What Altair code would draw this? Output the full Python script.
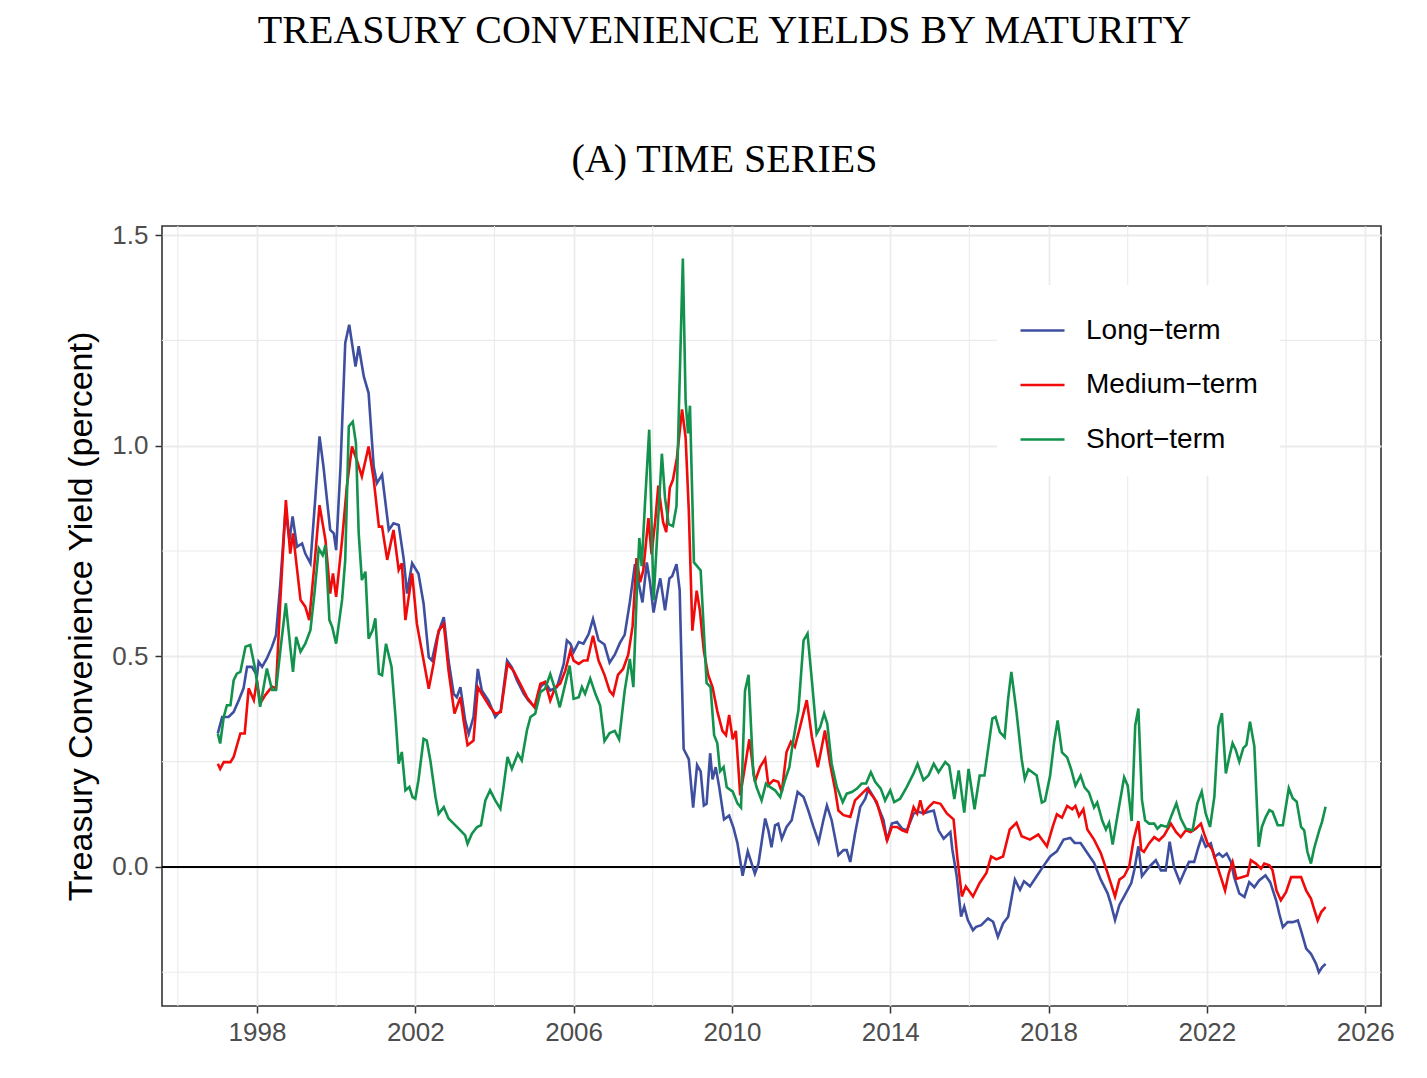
import altair as alt
import pandas as pd

# ---------------- data ----------------
long_years = [
    1997.01, 1997.12, 1997.28, 1997.41, 1997.54, 1997.66, 1997.75, 1997.87, 1998.00, 1998.04,
    1998.13, 1998.25, 1998.38, 1998.48, 1998.59, 1998.72, 1998.82, 1998.90, 1999.01, 1999.14,
    1999.22, 1999.35, 1999.47, 1999.58, 1999.68, 1999.85, 1999.94, 2000.00, 2000.11, 2000.23,
    2000.33, 2000.49, 2000.57, 2000.70, 2000.82, 2000.95, 2001.03, 2001.16, 2001.33, 2001.45,
    2001.58, 2001.71, 2001.79, 2001.92, 2002.08, 2002.21, 2002.34, 2002.42, 2002.55, 2002.63,
    2002.72, 2002.84, 2002.97, 2003.05, 2003.14, 2003.26, 2003.35, 2003.47, 2003.58, 2003.68,
    2003.85, 2004.02, 2004.16, 2004.32, 2004.44, 2004.57, 2004.74, 2004.86, 2005.03, 2005.16,
    2005.28, 2005.41, 2005.58, 2005.75, 2005.83, 2005.92, 2006.00, 2006.13, 2006.25, 2006.38,
    2006.49, 2006.63, 2006.78, 2006.91, 2007.04, 2007.17, 2007.29, 2007.42, 2007.55, 2007.66,
    2007.74, 2007.85, 2007.93, 2008.02, 2008.10, 2008.19, 2008.31, 2008.42, 2008.49, 2008.60,
    2008.68, 2008.78, 2008.91, 2009.02, 2009.12, 2009.21, 2009.29, 2009.36, 2009.45, 2009.51,
    2009.59, 2009.68, 2009.80, 2009.93, 2010.04, 2010.14, 2010.27, 2010.40, 2010.58, 2010.67,
    2010.84, 2010.92, 2011.00, 2011.09, 2011.17, 2011.26, 2011.38, 2011.51, 2011.66, 2011.81,
    2011.93, 2012.06, 2012.19, 2012.31, 2012.40, 2012.52, 2012.69, 2012.82, 2012.90, 2012.99,
    2013.11, 2013.24, 2013.37, 2013.45, 2013.58, 2013.70, 2013.83, 2013.92, 2014.04, 2014.17,
    2014.30, 2014.42, 2014.59, 2014.72, 2014.84, 2014.97, 2015.10, 2015.22, 2015.35, 2015.52,
    2015.57, 2015.68, 2015.79, 2015.87, 2015.96, 2016.09, 2016.17, 2016.30, 2016.47, 2016.60,
    2016.72, 2016.85, 2016.98, 2017.15, 2017.28, 2017.38, 2017.53, 2017.70, 2017.87, 2018.04,
    2018.21, 2018.38, 2018.55, 2018.66, 2018.81, 2018.98, 2019.15, 2019.32, 2019.49, 2019.57,
    2019.68, 2019.79, 2019.91, 2020.09, 2020.17, 2020.27, 2020.36, 2020.54, 2020.71, 2020.84,
    2020.96, 2021.06, 2021.17, 2021.32, 2021.43, 2021.55, 2021.68, 2021.79, 2021.87, 2021.97,
    2022.10, 2022.19, 2022.31, 2022.40, 2022.50, 2022.61, 2022.69, 2022.82, 2022.95, 2023.07,
    2023.20, 2023.32, 2023.48, 2023.60, 2023.75, 2023.83, 2023.92, 2024.04, 2024.17, 2024.30,
    2024.38, 2024.51, 2024.63, 2024.76, 2024.83, 2024.91, 2025.00,
]
long_vals = [
    0.317, 0.356, 0.356, 0.368, 0.396, 0.424, 0.475, 0.475, 0.455, 0.487,
    0.475, 0.495, 0.523, 0.550, 0.673, 0.847, 0.776, 0.832, 0.760, 0.768,
    0.744, 0.721, 0.871, 1.022, 0.950, 0.800, 0.792, 0.752, 0.950, 1.244,
    1.287, 1.188, 1.236, 1.164, 1.125, 0.950, 0.911, 0.931, 0.800, 0.816,
    0.812, 0.729, 0.649, 0.721, 0.696, 0.625, 0.498, 0.490, 0.545, 0.569,
    0.593, 0.490, 0.411, 0.403, 0.427, 0.348, 0.316, 0.356, 0.470, 0.419,
    0.395, 0.356, 0.372, 0.490, 0.474, 0.443, 0.411, 0.395, 0.379, 0.427,
    0.439, 0.419, 0.427, 0.482, 0.538, 0.530, 0.510, 0.534, 0.530, 0.553,
    0.589, 0.538, 0.528, 0.485, 0.504, 0.532, 0.551, 0.628, 0.719, 0.666,
    0.628, 0.723, 0.676, 0.604, 0.647, 0.685, 0.609, 0.685, 0.690, 0.719,
    0.657, 0.280, 0.256, 0.141, 0.242, 0.227, 0.146, 0.150, 0.270, 0.208,
    0.237, 0.189, 0.113, 0.122, 0.093, 0.056, -0.021, 0.037, -0.016, 0.008,
    0.115, 0.087, 0.047, 0.099, 0.103, 0.067, 0.095, 0.111, 0.178, 0.166,
    0.134, 0.095, 0.059, 0.111, 0.146, 0.111, 0.028, 0.040, 0.040, 0.012,
    0.079, 0.142, 0.162, 0.186, 0.166, 0.142, 0.111, 0.063, 0.103, 0.107,
    0.091, 0.087, 0.127, 0.131, 0.127, 0.131, 0.134, 0.087, 0.067, 0.083,
    0.041, -0.022, -0.118, -0.094, -0.126, -0.150, -0.142, -0.138, -0.122, -0.130,
    -0.166, -0.134, -0.118, -0.030, -0.054, -0.034, -0.046, -0.022, 0.002, 0.025,
    0.037, 0.065, 0.069, 0.057, 0.057, 0.033, 0.010, -0.030, -0.062, -0.086,
    -0.126, -0.090, -0.070, -0.038, -0.006, 0.049, -0.022, 0.000, 0.016, -0.008,
    -0.008, 0.060, 0.000, -0.036, -0.012, 0.012, 0.012, 0.048, 0.071, 0.048,
    0.056, 0.024, 0.032, 0.024, 0.032, 0.012, -0.024, -0.063, -0.071, -0.036,
    -0.048, -0.032, -0.020, -0.036, -0.079, -0.111, -0.143, -0.131, -0.131, -0.127,
    -0.151, -0.194, -0.206, -0.230, -0.250, -0.238, -0.230,
]

medium_years = [
    1997.01, 1997.07, 1997.16, 1997.33, 1997.41, 1997.58, 1997.69, 1997.79, 1997.92, 1998.00,
    1998.08, 1998.21, 1998.38, 1998.48, 1998.59, 1998.73, 1998.84, 1998.91, 1999.10, 1999.22,
    1999.32, 1999.47, 1999.58, 1999.73, 1999.85, 1999.92, 2000.00, 2000.15, 2000.27, 2000.40,
    2000.52, 2000.65, 2000.82, 2000.95, 2001.08, 2001.16, 2001.29, 2001.45, 2001.58, 2001.66,
    2001.75, 2001.92, 2002.04, 2002.21, 2002.34, 2002.46, 2002.59, 2002.72, 2002.84, 2002.99,
    2003.14, 2003.22, 2003.32, 2003.47, 2003.58, 2003.68, 2003.89, 2004.02, 2004.16, 2004.33,
    2004.48, 2004.65, 2004.82, 2005.01, 2005.16, 2005.28, 2005.41, 2005.54, 2005.66, 2005.79,
    2005.92, 2006.00, 2006.13, 2006.25, 2006.35, 2006.49, 2006.63, 2006.78, 2006.91, 2007.00,
    2007.12, 2007.25, 2007.38, 2007.49, 2007.59, 2007.68, 2007.76, 2007.89, 2007.97, 2008.06,
    2008.14, 2008.26, 2008.34, 2008.43, 2008.51, 2008.61, 2008.74, 2008.83, 2008.91, 2009.00,
    2009.11, 2009.19, 2009.29, 2009.40, 2009.51, 2009.63, 2009.76, 2009.85, 2009.93, 2010.02,
    2010.10, 2010.21, 2010.31, 2010.44, 2010.58, 2010.71, 2010.84, 2010.92, 2011.05, 2011.17,
    2011.26, 2011.38, 2011.49, 2011.59, 2011.72, 2011.89, 2012.02, 2012.17, 2012.27, 2012.35,
    2012.48, 2012.61, 2012.69, 2012.82, 2012.99, 2013.11, 2013.24, 2013.41, 2013.54, 2013.66,
    2013.79, 2013.92, 2014.04, 2014.17, 2014.30, 2014.42, 2014.59, 2014.68, 2014.76, 2014.84,
    2014.97, 2015.10, 2015.27, 2015.43, 2015.60, 2015.70, 2015.81, 2015.91, 2016.09, 2016.26,
    2016.43, 2016.55, 2016.68, 2016.85, 2017.02, 2017.19, 2017.32, 2017.53, 2017.74, 2017.96,
    2018.11, 2018.21, 2018.34, 2018.47, 2018.60, 2018.68, 2018.77, 2018.88, 2018.98, 2019.15,
    2019.32, 2019.49, 2019.68, 2019.79, 2019.91, 2020.04, 2020.15, 2020.27, 2020.34, 2020.41,
    2020.54, 2020.67, 2020.79, 2020.92, 2021.09, 2021.22, 2021.34, 2021.47, 2021.59, 2021.72,
    2021.85, 2021.93, 2022.02, 2022.14, 2022.27, 2022.38, 2022.46, 2022.55, 2022.65, 2022.75,
    2022.90, 2023.03, 2023.11, 2023.24, 2023.37, 2023.45, 2023.58, 2023.66, 2023.76, 2023.87,
    2024.00, 2024.13, 2024.25, 2024.38, 2024.51, 2024.63, 2024.72, 2024.80, 2024.89, 2025.00,
]
medium_vals = [
    0.245, 0.233, 0.249, 0.249, 0.261, 0.317, 0.317, 0.424, 0.396, 0.443,
    0.388, 0.408, 0.428, 0.424, 0.634, 0.871, 0.744, 0.792, 0.634, 0.618,
    0.586, 0.737, 0.859, 0.776, 0.649, 0.697, 0.641, 0.776, 0.903, 0.998,
    0.966, 0.927, 0.998, 0.919, 0.808, 0.808, 0.729, 0.800, 0.705, 0.721,
    0.586, 0.697, 0.577, 0.490, 0.423, 0.482, 0.561, 0.577, 0.466, 0.364,
    0.403, 0.348, 0.289, 0.300, 0.427, 0.411, 0.379, 0.364, 0.368, 0.482,
    0.466, 0.435, 0.403, 0.379, 0.435, 0.439, 0.395, 0.427, 0.435, 0.466,
    0.514, 0.490, 0.482, 0.490, 0.490, 0.549, 0.490, 0.456, 0.418, 0.408,
    0.456, 0.470, 0.504, 0.571, 0.733, 0.676, 0.704, 0.828, 0.742, 0.819,
    0.905, 0.819, 0.795, 0.900, 0.919, 0.971, 1.086, 1.019, 0.847, 0.561,
    0.656, 0.609, 0.513, 0.456, 0.427, 0.370, 0.323, 0.313, 0.361, 0.303,
    0.323, 0.170, 0.227, 0.303, 0.202, 0.237, 0.257, 0.194, 0.206, 0.202,
    0.178, 0.273, 0.297, 0.285, 0.332, 0.396, 0.309, 0.237, 0.285, 0.324,
    0.245, 0.182, 0.134, 0.123, 0.119, 0.158, 0.170, 0.186, 0.170, 0.154,
    0.111, 0.063, 0.095, 0.095, 0.087, 0.083, 0.142, 0.127, 0.158, 0.127,
    0.142, 0.154, 0.150, 0.127, 0.113, 0.018, -0.070, -0.046, -0.070, -0.038,
    -0.014, 0.025, 0.018, 0.025, 0.089, 0.105, 0.073, 0.065, 0.077, 0.049,
    0.097, 0.125, 0.117, 0.145, 0.137, 0.145, 0.121, 0.137, 0.089, 0.065,
    0.033, -0.014, -0.070, -0.030, -0.022, 0.002, 0.065, 0.109, 0.041, 0.036,
    0.056, 0.071, 0.063, 0.075, 0.103, 0.083, 0.071, 0.087, 0.083, 0.091,
    0.103, 0.079, 0.056, 0.040, 0.000, -0.032, -0.056, -0.016, 0.012, -0.028,
    -0.024, -0.020, 0.016, 0.008, -0.004, 0.008, 0.004, -0.008, -0.056, -0.079,
    -0.060, -0.024, -0.024, -0.024, -0.056, -0.075, -0.103, -0.127, -0.107, -0.095,
]

short_years = [
    1997.01, 1997.07, 1997.16, 1997.24, 1997.33, 1997.41, 1997.49, 1997.58, 1997.71, 1997.83,
    1997.96, 1998.08, 1998.25, 1998.38, 1998.48, 1998.61, 1998.73, 1998.84, 1998.91, 1998.99,
    1999.10, 1999.22, 1999.35, 1999.46, 1999.56, 1999.66, 1999.73, 1999.83, 1999.90, 2000.00,
    2000.15, 2000.23, 2000.32, 2000.42, 2000.50, 2000.57, 2000.65, 2000.74, 2000.82, 2000.92,
    2000.99, 2001.08, 2001.16, 2001.26, 2001.40, 2001.50, 2001.58, 2001.66, 2001.75, 2001.85,
    2001.93, 2002.00, 2002.08, 2002.21, 2002.29, 2002.38, 2002.51, 2002.59, 2002.72, 2002.84,
    2002.97, 2003.14, 2003.26, 2003.32, 2003.43, 2003.56, 2003.66, 2003.77, 2003.89, 2004.02,
    2004.15, 2004.23, 2004.33, 2004.44, 2004.59, 2004.69, 2004.82, 2004.91, 2005.03, 2005.16,
    2005.28, 2005.41, 2005.54, 2005.65, 2005.77, 2005.90, 2006.00, 2006.13, 2006.21, 2006.29,
    2006.42, 2006.55, 2006.67, 2006.78, 2006.91, 2007.04, 2007.15, 2007.29, 2007.42, 2007.51,
    2007.59, 2007.66, 2007.72, 2007.80, 2007.91, 2008.02, 2008.12, 2008.23, 2008.31, 2008.40,
    2008.51, 2008.60, 2008.66, 2008.76, 2008.83, 2008.89, 2008.94, 2009.04, 2009.12, 2009.21,
    2009.29, 2009.36, 2009.46, 2009.55, 2009.63, 2009.70, 2009.79, 2009.87, 2010.02, 2010.14,
    2010.23, 2010.33, 2010.42, 2010.54, 2010.62, 2010.75, 2010.86, 2010.96, 2011.09, 2011.22,
    2011.34, 2011.45, 2011.55, 2011.68, 2011.81, 2011.91, 2012.02, 2012.14, 2012.23, 2012.33,
    2012.41, 2012.52, 2012.65, 2012.80, 2012.90, 2013.03, 2013.16, 2013.28, 2013.39, 2013.51,
    2013.62, 2013.76, 2013.87, 2014.00, 2014.10, 2014.25, 2014.42, 2014.59, 2014.69, 2014.84,
    2014.97, 2015.10, 2015.22, 2015.39, 2015.49, 2015.62, 2015.73, 2015.87, 2015.98, 2016.13,
    2016.26, 2016.38, 2016.58, 2016.66, 2016.77, 2016.89, 2016.98, 2017.06, 2017.19, 2017.32,
    2017.40, 2017.49, 2017.70, 2017.83, 2017.91, 2018.04, 2018.14, 2018.23, 2018.34, 2018.47,
    2018.57, 2018.68, 2018.81, 2018.91, 2019.02, 2019.15, 2019.23, 2019.36, 2019.45, 2019.53,
    2019.62, 2019.74, 2019.91, 2020.00, 2020.10, 2020.19, 2020.27, 2020.36, 2020.44, 2020.54,
    2020.67, 2020.75, 2020.84, 2021.00, 2021.11, 2021.23, 2021.34, 2021.47, 2021.64, 2021.76,
    2021.87, 2021.97, 2022.08, 2022.19, 2022.29, 2022.38, 2022.48, 2022.57, 2022.65, 2022.73,
    2022.82, 2022.92, 2023.00, 2023.09, 2023.20, 2023.31, 2023.39, 2023.49, 2023.58, 2023.66,
    2023.79, 2023.92, 2024.07, 2024.17, 2024.27, 2024.38, 2024.46, 2024.54, 2024.63, 2024.71,
    2024.84, 2024.91, 2025.00,
]
short_vals = [
    0.317, 0.293, 0.356, 0.384, 0.384, 0.443, 0.459, 0.463, 0.523, 0.527,
    0.467, 0.380, 0.471, 0.420, 0.420, 0.530, 0.626, 0.523, 0.463, 0.546,
    0.511, 0.530, 0.562, 0.657, 0.756, 0.740, 0.764, 0.586, 0.570, 0.530,
    0.634, 0.729, 1.046, 1.057, 1.006, 0.792, 0.681, 0.701, 0.542, 0.562,
    0.590, 0.459, 0.455, 0.530, 0.475, 0.356, 0.245, 0.273, 0.182, 0.190,
    0.166, 0.162, 0.206, 0.304, 0.300, 0.253, 0.166, 0.126, 0.142, 0.115,
    0.103, 0.087, 0.075, 0.055, 0.079, 0.095, 0.099, 0.158, 0.182, 0.158,
    0.138, 0.190, 0.261, 0.233, 0.269, 0.253, 0.324, 0.356, 0.364, 0.415,
    0.423, 0.458, 0.419, 0.379, 0.427, 0.478, 0.399, 0.403, 0.427, 0.411,
    0.447, 0.411, 0.383, 0.299, 0.318, 0.323, 0.303, 0.418, 0.494, 0.427,
    0.637, 0.781, 0.714, 0.857, 1.038, 0.633, 0.800, 0.981, 0.876, 0.814,
    0.809, 0.857, 1.086, 1.444, 1.105, 1.029, 1.095, 0.723, 0.714, 0.704,
    0.561, 0.437, 0.427, 0.313, 0.294, 0.227, 0.237, 0.189, 0.179, 0.151,
    0.141, 0.418, 0.456, 0.222, 0.190, 0.158, 0.198, 0.190, 0.182, 0.166,
    0.206, 0.237, 0.301, 0.372, 0.538, 0.554, 0.443, 0.316, 0.332, 0.364,
    0.340, 0.245, 0.190, 0.154, 0.174, 0.178, 0.186, 0.198, 0.198, 0.225,
    0.202, 0.186, 0.158, 0.182, 0.154, 0.162, 0.190, 0.222, 0.245, 0.206,
    0.218, 0.245, 0.225, 0.249, 0.240, 0.161, 0.229, 0.129, 0.233, 0.137,
    0.217, 0.217, 0.352, 0.356, 0.320, 0.308, 0.400, 0.463, 0.368, 0.256,
    0.209, 0.232, 0.217, 0.153, 0.157, 0.217, 0.296, 0.348, 0.272, 0.260,
    0.232, 0.193, 0.217, 0.189, 0.177, 0.141, 0.153, 0.109, 0.089, 0.105,
    0.053, 0.121, 0.213, 0.193, 0.109, 0.336, 0.376, 0.159, 0.111, 0.103,
    0.103, 0.091, 0.099, 0.095, 0.123, 0.151, 0.115, 0.091, 0.087, 0.151,
    0.179, 0.127, 0.095, 0.167, 0.333, 0.365, 0.222, 0.262, 0.294, 0.278,
    0.250, 0.282, 0.290, 0.345, 0.286, 0.048, 0.095, 0.119, 0.135, 0.131,
    0.099, 0.099, 0.187, 0.163, 0.155, 0.095, 0.087, 0.036, 0.008, 0.044,
    0.087, 0.107, 0.143,
]

series_names = ["Long\u2212term", "Medium\u2212term", "Short\u2212term"]
series_colors = ["#3E4FA0", "#F00A0A", "#12924C"]

x_major = [1998, 2002, 2006, 2010, 2014, 2018, 2022, 2026]
x_minor = [1996, 2000, 2004, 2008, 2012, 2016, 2020, 2024]
y_major = [0.0, 0.5, 1.0, 1.5]
y_minor = [-0.25, 0.25, 0.75, 1.25]

# ---------------- tables ----------------
frames = []
for name, yrs, vals in zip(series_names,
                           [long_years, medium_years, short_years],
                           [long_vals, medium_vals, short_vals]):
    frames.append(pd.DataFrame({"year": yrs, "value": vals, "series": name}))
df = pd.concat(frames, ignore_index=True)

minor_x_df = pd.DataFrame({"year": x_minor})
minor_y_df = pd.DataFrame({"value": y_minor})
zero_df = pd.DataFrame({"value": [0.0]})

# ---------------- scales / axes ----------------
x_scale = alt.Scale(domain=[1995.6, 2026.4], nice=False, zero=False)
y_scale = alt.Scale(domain=[-0.33, 1.5215], nice=False, zero=False)

x_axis = alt.Axis(values=x_major, format="d", title=None, grid=True,
                  labelFlush=False, labelOverlap=False, labelPadding=6)
y_axis = alt.Axis(values=y_major, format=".1f", grid=True,
                  title="Treasury Convenience Yield (percent)",
                  labelFlush=False, labelOverlap=False, labelPadding=7,
                  titlePadding=13)

X = alt.X("year:Q", scale=x_scale, axis=x_axis)
Y = alt.Y("value:Q", scale=y_scale, axis=y_axis)

grid_x = alt.Chart(minor_x_df).mark_rule(color="#EBEBEB", strokeWidth=1.1).encode(x=X)
grid_y = alt.Chart(minor_y_df).mark_rule(color="#EBEBEB", strokeWidth=1.1).encode(y=Y)
zero_line = alt.Chart(zero_df).mark_rule(color="black", strokeWidth=2.2).encode(y=Y)

color = alt.Color(
    "series:N",
    scale=alt.Scale(domain=series_names, range=series_colors),
    legend=alt.Legend(
        title=None, orient="none", legendX=835, legendY=59,
        direction="vertical", fillColor="white", padding=22,
        symbolType="stroke", symbolSize=1936, symbolStrokeWidth=2.6,
        labelFontSize=28, labelFont="Liberation Sans", labelColor="black",
        labelOffset=20, rowPadding=16.5, labelLimit=0,
    ),
)

lines = [
    alt.Chart(df).transform_filter(alt.datum.series == name)
    .mark_line(strokeWidth=2.6, interpolate="linear")
    .encode(x=X, y=Y, color=color)
    for name in series_names
]

title = alt.TitleParams(
    text="TREASURY CONVENIENCE YIELDS BY MATURITY",
    subtitle="(A) TIME SERIES",
    font="Liberation Serif", fontSize=40, fontWeight="normal", color="black",
    subtitleFont="Liberation Serif", subtitleFontSize=40, subtitleColor="black",
    anchor="middle", dx=-47, offset=42, subtitlePadding=89,
)

chart = (
    alt.layer(grid_x, grid_y, zero_line, *lines)
    .properties(
        width=1219, height=780, title=title,
        autosize=alt.AutoSizeParams(type="none"),
        padding={"left": 154, "top": 218, "right": 38, "bottom": 64},
        background="white",
    )
    .configure_view(stroke="#333333", strokeWidth=1.6)
    .configure_axis(
        domain=False,
        gridColor="#EBEBEB", gridWidth=1.8,
        tickColor="#333333", tickWidth=1.5, tickSize=7,
        labelFont="Liberation Sans", labelFontSize=26, labelColor="#4D4D4D",
        titleFont="Liberation Sans", titleFontSize=34, titleFontWeight="normal",
        titleColor="black",
    )
)

chart.save("out.html", embed_options={"renderer": "svg", "actions": False})
